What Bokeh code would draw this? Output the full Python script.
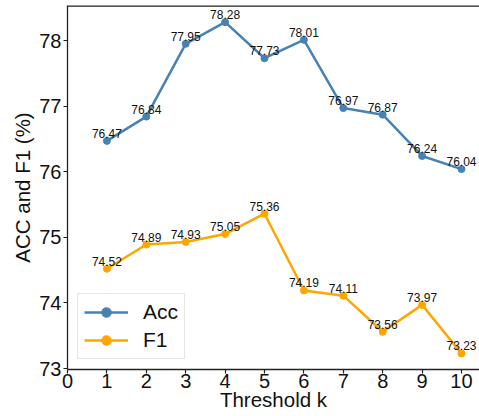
from bokeh.plotting import figure
from bokeh.models import ColumnDataSource, LabelSet, Legend, LegendItem, Span, Range1d, FixedTicker
from bokeh.core.properties import value
from bokeh.embed import file_html
from bokeh.resources import INLINE

k = [1, 2, 3, 4, 5, 6, 7, 8, 9, 10]
acc = [76.47, 76.84, 77.95, 78.28, 77.73, 78.01, 76.97, 76.87, 76.24, 76.04]
f1 = [74.52, 74.89, 74.93, 75.05, 75.36, 74.19, 74.11, 73.56, 73.97, 73.23]
x_ticks = [0, 1, 2, 3, 4, 5, 6, 7, 8, 9, 10]
y_ticks = [73, 74, 75, 76, 77, 78]

FONT = "Liberation Sans"
BLUE = "#4682B4"
ORANGE = "#FFA500"
X0, X1 = 0, 10.457
Y0, Y1 = 72.985, 78.534

src_acc = ColumnDataSource(dict(x=k, y=acc, t=[f"{v:.2f}" for v in acc]))
src_f1 = ColumnDataSource(dict(x=k, y=f1, t=[f"{v:.2f}" for v in f1]))

p = figure(width=479, height=416, output_backend="svg", toolbar_location=None,
           x_range=Range1d(X0, X1), y_range=Range1d(Y0, Y1),
           min_border_left=67, min_border_top=5, min_border_right=0, min_border_bottom=47)
p.outline_line_color = None
p.grid.grid_line_color = None
p.background_fill_color = "white"

l1 = p.line("x", "y", source=src_acc, line_color=BLUE, line_width=2.5)
s1 = p.scatter("x", "y", source=src_acc, size=7, fill_color=BLUE, line_color=BLUE)
l2 = p.line("x", "y", source=src_f1, line_color=ORANGE, line_width=2.5)
s2 = p.scatter("x", "y", source=src_f1, size=7, fill_color=ORANGE, line_color=ORANGE)

for src in (src_acc, src_f1):
    p.add_layout(LabelSet(x="x", y="y", text="t", source=src, text_align="center",
                          text_baseline="alphabetic", y_offset=3,
                          text_font=value(FONT), text_font_size=value("12px"),
                          text_color="#111111"))

p.add_layout(Span(location=Y1, dimension="width", line_color="#222222", line_width=2.5))

for ax in (p.xaxis[0], p.yaxis[0]):
    ax.axis_line_color = "#222222"
    ax.axis_line_width = 1.3
    ax.major_tick_line_color = "#222222"
    ax.major_tick_line_width = 1.2
    ax.major_tick_out = 4
    ax.major_tick_in = 0
    ax.minor_tick_line_color = None
    ax.major_label_text_font = FONT
    ax.major_label_text_font_size = "20px"
    ax.major_label_text_color = "#111111"
    ax.axis_label_text_font = FONT
    ax.axis_label_text_font_size = "20.5px"
    ax.axis_label_text_font_style = "normal"
    ax.axis_label_text_color = "#111111"
    ax.major_label_standoff = 2
    ax.axis_label_standoff = 2

p.xaxis[0].ticker = FixedTicker(ticks=x_ticks)
p.yaxis[0].ticker = FixedTicker(ticks=y_ticks)
p.xaxis[0].major_label_standoff = 0
p.xaxis[0].axis_label_standoff = -3
p.xaxis[0].axis_label = "Threshold k"
p.yaxis[0].axis_label = "ACC and F1 (%)"

legend = Legend(items=[LegendItem(label="Acc", renderers=[l1, s1]),
                       LegendItem(label="F1", renderers=[l2, s2])],
                location=(10, 10), orientation="vertical")
legend.label_text_font = FONT
legend.label_text_font_size = "21px"
legend.label_text_color = "#111111"
legend.glyph_width = 44
legend.glyph_height = 24
legend.label_height = 24
legend.label_standoff = 15
legend.spacing = 4
legend.padding = 6
legend.margin = 0
legend.border_line_color = "#cccccc"
legend.border_line_width = 1
legend.background_fill_color = "white"
legend.background_fill_alpha = 0.8
p.add_layout(legend, "center")

open("out.html", "w").write(file_html(p, INLINE))
